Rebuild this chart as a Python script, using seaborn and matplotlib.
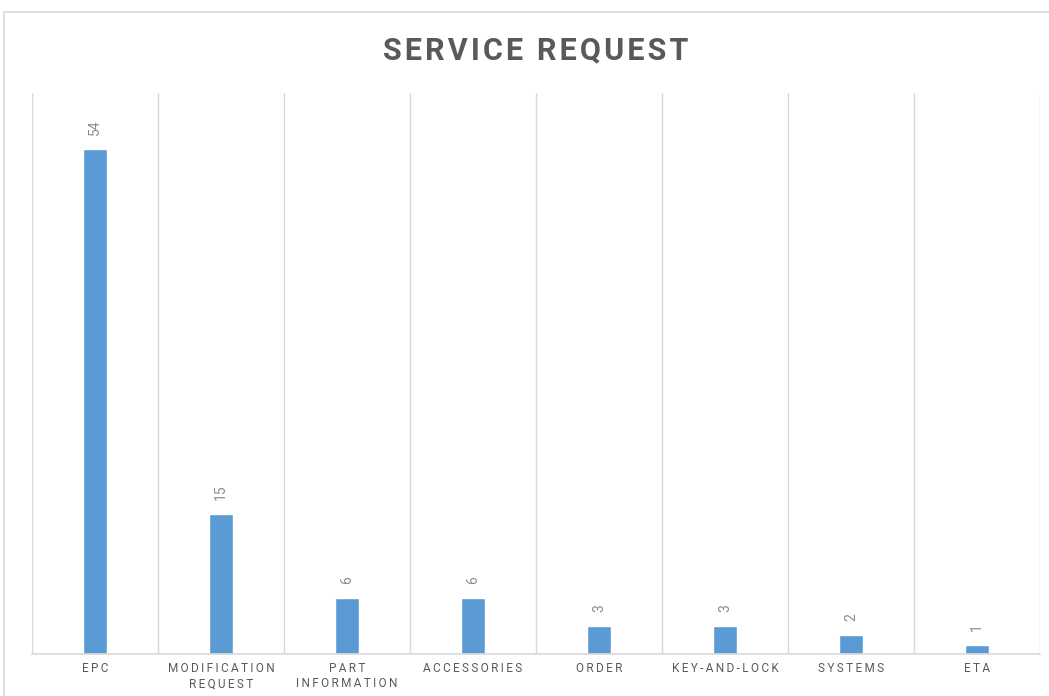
import matplotlib
matplotlib.use("Agg")
import matplotlib.pyplot as plt
import seaborn as sns
import pandas as pd
from matplotlib.patches import Rectangle

categories = ["EPC", "MODIFICATION\nREQUEST", "PART\nINFORMATION", "ACCESSORIES",
              "ORDER", "KEY-AND-LOCK", "SYSTEMS", "ETA"]
values = [54, 15, 6, 6, 3, 3, 2, 1]
title = "SERVICE REQUEST"

sns.set_theme(style="white")
plt.rcParams['font.family'] = ['Roboto', 'DejaVu Sans']

def spaced(s, sep="\u2009"):
    return "\n".join(sep.join(list(line)) for line in s.split("\n"))

df = pd.DataFrame({"cat": categories, "val": values})

fig = plt.figure(figsize=(10.49, 6.96), dpi=100)
ax = fig.add_axes([32/1049, 1 - 654/696, (1040-32)/1049, (654-93)/696])

sns.barplot(data=df, x="cat", y="val", color="#5B9BD5", width=0.19, ax=ax,
            saturation=1)

ax.set_xlim(-0.5, len(categories) - 0.5)
ax.set_ylim(0, 60)
for i in range(len(categories) + 1):
    ax.axvline(i - 0.5, color="#D9D9D9", lw=1, zorder=0)
for s in ["top", "right", "left"]:
    ax.spines[s].set_visible(False)
ax.spines["bottom"].set_color("#D9D9D9")
ax.spines["bottom"].set_linewidth(1.2)

ax.set_yticks([])
ax.set_xlabel("")
ax.set_ylabel("")
ax.set_xticks(range(len(categories)))
ax.set_xticklabels([spaced(c, "\u2009") for c in categories], fontsize=8.5,
                   color="#595959", linespacing=1.2)
ax.tick_params(axis="x", length=0, pad=6)

for cont in ax.containers:
    ax.bar_label(cont, labels=[str(v) for v in values], rotation=90, padding=10,
                 fontsize=10, color="#8C8C8C")

ax.set_title(spaced(title, "\u200a"), fontsize=22, fontweight="bold", color="#595959",
             pad=24)

border = Rectangle((4/1049, -0.1), 1.2, 1 - 12/696 + 0.1, transform=fig.transFigure,
                   fill=False, edgecolor="#D9D9D9", lw=1.2, zorder=-1)
fig.patches.append(border)

fig.savefig("out.png", dpi=100)
